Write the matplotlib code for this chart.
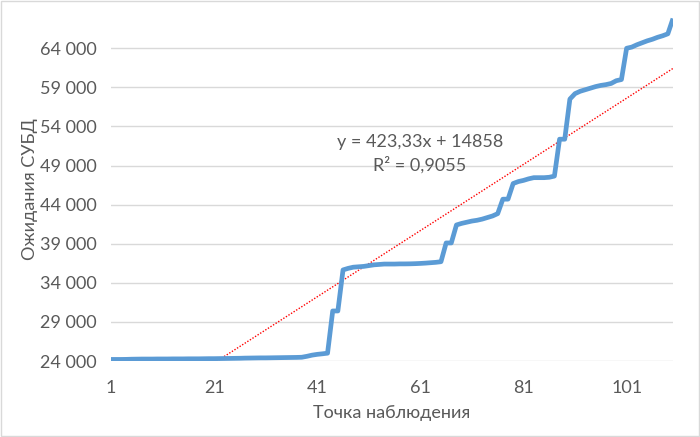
"""
Ожидания СУБД по точкам наблюдения, с линейным трендом
"""
import numpy
import matplotlib
matplotlib.use('Agg')
import matplotlib.pyplot as plt
from matplotlib.ticker import FuncFormatter
from matplotlib.patches import Rectangle

waits = [
    24200, 24200, 24200, 24210, 24230, 24240, 24250, 24250, 24250, 24260,
    24260, 24260, 24270, 24270, 24270, 24280, 24280, 24280, 24290, 24300,
    24300, 24310, 24320, 24330, 24340, 24350, 24370, 24380, 24390, 24400,
    24400, 24410, 24420, 24430, 24440, 24450, 24460, 24480, 24600, 24750,
    24850, 24920, 25000, 30400, 30400, 35650, 35850, 36000, 36050, 36100,
    36200, 36300, 36350, 36400, 36400, 36400, 36420, 36420, 36430, 36450,
    36480, 36520, 36570, 36620, 36700, 39100, 39100, 41400, 41600, 41750,
    41900, 42000, 42150, 42350, 42550, 42850, 44700, 44700, 46700, 46950,
    47100, 47300, 47450, 47450, 47450, 47500, 47650, 52370, 52370, 57500,
    58200, 58500, 58700, 58900, 59100, 59250, 59350, 59500, 59850, 60000,
    64000, 64150, 64450, 64700, 64950, 65150, 65400, 65600, 65850, 67800,
]
trend_slope = 423.33
trend_intercept = 14858
r_squared = 0.9055
x_ticks = [1, 21, 41, 61, 81, 101]
y_ticks = [24000, 29000, 34000, 39000, 44000, 49000, 54000, 59000, 64000]

plt.rcParams['font.family'] = ['Lato', 'DejaVu Sans']
text_color = '#595959'

points = numpy.arange(1, len(waits) + 1)

fig = plt.figure(figsize=(7.0, 4.37), dpi=100)
ax = fig.add_axes([111/700, 1 - 361/437, (673 - 111)/700, (361 - 17)/437])

for y in y_ticks:
    ax.axhline(y, color='#d9d9d9', lw=1.0, zorder=0)

ax.plot(points, waits, color='#5b9bd5', lw=3.4, solid_joinstyle='round',
        solid_capstyle='butt', zorder=3)

trend = trend_slope * points + trend_intercept
ax.plot(points, trend, color='#ff0000', lw=1.0, ls=(0, (1, 1.2)), zorder=2)

ax.set_xlim(1, len(waits))
ax.set_ylim(24000, 68000)
ax.set_xticks(x_ticks)
ax.set_yticks(y_ticks)
ax.yaxis.set_major_formatter(FuncFormatter(
    lambda v, pos: '{:,.0f}'.format(v).replace(',', ' ')))
ax.tick_params(length=0, labelsize=13, colors=text_color)
ax.tick_params(axis='x', pad=14)
ax.tick_params(axis='y', pad=10)
for side in ['top', 'right', 'left', 'bottom']:
    ax.spines[side].set_visible(False)

ax.set_xlabel('Точка наблюдения', fontsize=13, color=text_color, labelpad=6)
ax.set_ylabel('Ожидания СУБД', fontsize=13, color=text_color, labelpad=2)

eq = 'y = {:.2f}x + {:d}'.format(trend_slope, trend_intercept).replace('.', ',')
r2 = 'R² = {:.4f}'.format(r_squared).replace('.', ',')
fig.text(420/700, 1 - 142/437, eq, ha='center', va='center',
         fontsize=13, color=text_color)
fig.text(420/700, 1 - 165/437, r2, ha='center', va='center',
         fontsize=13, color=text_color)

fig.patches.append(Rectangle((0.001, 0.002), 0.997, 0.996, transform=fig.transFigure,
                             fill=False, edgecolor='#d9d9d9', lw=1.0))

plt.savefig('out.png', dpi=100)
plt.close()
